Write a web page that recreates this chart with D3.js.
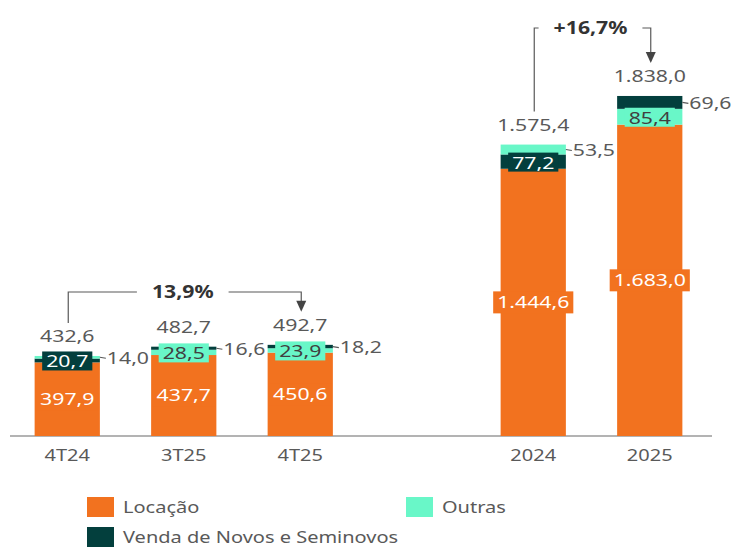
<!DOCTYPE html>
<html>
<head>
<meta charset="utf-8">
<script src="https://cdn.jsdelivr.net/npm/d3@7"></script>
<style>
  body { margin: 0; background: #fff; }
  svg { display: block; font-family: "Noto Sans", sans-serif; }
</style>
</head>
<body>
<svg id="chart" width="732" height="547"></svg>
<script>
// dados
const categories = ["4T24", "3T25", "4T25", "2024", "2025"];
const slots = ["4T24", "3T25", "4T25", "gap", "2024", "2025"];
const locacao = [397.9, 437.7, 450.6, 1444.6, 1683.0];
const venda = [20.7, 16.6, 18.2, 77.2, 69.6];
const outras = [14.0, 28.5, 23.9, 53.5, 85.4];
const totals = [432.6, 482.7, 492.7, 1575.4, 1838.0];
const seriesNames = ["Locação", "Venda de Novos e Seminovos", "Outras"];
const legendOrder = ["Locação", "Outras", "Venda de Novos e Seminovos"];
const growthFrom = ["4T24", "2024"];
const growthTo = ["4T25", "2025"];
const growthLabels = ["13,9%", "+16,7%"];

const colors = {
    "Locação": "#F2721F",
    "Venda de Novos e Seminovos": "#033F3D",
    "Outras": "#69F7C8"
};
const SX = 1.25; // texto do original é mais largo
const gray = "#595959";

const br = d3.formatLocale({ decimal: ",", thousands: ".", grouping: [3], currency: ["R$", ""] });
const fmt = br.format(",.1f");

const svg = d3.select("#chart");

const x = d3.scaleBand().domain(slots).range([9, 708]).paddingInner(0.44).paddingOuter(0.22);
const y = d3.scaleLinear().domain([0, 2000]).range([436, 66]);

function addText(g, px, py, str, o) {
    o = o || {};
    const t = g.append("text")
        .attr("transform", `translate(${px},${py}) scale(${SX},1)`)
        .attr("text-anchor", o.anchor || "middle")
        .attr("dy", "0.35em")
        .attr("font-size", (o.size || 17) + "px")
        .attr("font-weight", o.weight || "normal")
        .attr("fill", o.fill || gray)
        .text(str);
    return t;
}

// eixo
svg.append("line")
    .attr("x1", 10).attr("x2", 712)
    .attr("y1", y(0)).attr("y2", y(0))
    .attr("stroke", "#9a9a9a").attr("stroke-width", 1.5);

const axisG = svg.append("g");
categories.forEach(c => {
    addText(axisG, x(c) + x.bandwidth() / 2, 455, c, { size: 16 });
});

// barras empilhadas: locação na base, demais em ordem decrescente
const barsG = svg.append("g");
const labelsG = svg.append("g");

categories.forEach((c, i) => {
    const x0 = x(c), bw = x.bandwidth(), cx = x0 + bw / 2;
    const others = [
        { name: "Venda de Novos e Seminovos", v: venda[i] },
        { name: "Outras", v: outras[i] }
    ].sort((a, b) => b.v - a.v);
    const segs = [{ name: "Locação", v: locacao[i] }].concat(others);
    let acc = 0;
    segs.forEach(s => { s.y0 = acc; acc += s.v; s.y1 = acc; });

    barsG.selectAll(null)
        .data(segs)
        .enter()
        .append("rect")
        .attr("x", x0)
        .attr("width", bw)
        .attr("y", d => y(d.y1))
        .attr("height", d => y(d.y0) - y(d.y1))
        .attr("fill", d => colors[d.name]);

    // rótulo locação
    const loc = segs[0];
    const ly = (y(loc.y0) + y(loc.y1)) / 2;
    const lb = labelsG.append("g");
    const lt = addText(lb, cx, ly, fmt(loc.v), { fill: "#fff" });
    const lw = lt.node().getComputedTextLength() * SX + 8;
    lb.insert("rect", "text")
        .attr("x", cx - lw / 2).attr("y", ly - 11)
        .attr("width", lw).attr("height", 22)
        .attr("fill", colors["Locação"]);

    // rótulo do segmento do meio (caixa)
    const mid = segs[1];
    const my = (y(mid.y0) + y(mid.y1)) / 2 + 1;
    const mb = labelsG.append("g");
    const dark = mid.name === "Venda de Novos e Seminovos";
    const mt = addText(mb, cx, my, fmt(mid.v), { fill: dark ? "#fff" : "#404040" });
    const mw = mt.node().getComputedTextLength() * SX + 8;
    mb.insert("rect", "text")
        .attr("x", cx - mw / 2).attr("y", my - 10)
        .attr("width", mw).attr("height", 19)
        .attr("fill", colors[mid.name]);

    // rótulo do segmento do topo (fora, com linha guia)
    const top = segs[2];
    const ty = (y(top.y0) + y(top.y1)) / 2;
    labelsG.append("line")
        .attr("x1", x0 + bw).attr("x2", x0 + bw + 6)
        .attr("y1", ty).attr("y2", ty + 1)
        .attr("stroke", gray).attr("stroke-width", 1.2);
    addText(labelsG, x0 + bw + 7, ty + 1, fmt(top.v), { anchor: "start" });

    // total
    addText(labelsG, cx, y(totals[i]) - 20, fmt(totals[i]));
});

// anotações de crescimento
const bracketTop = [292, 28];
const annG = svg.append("g");
growthLabels.forEach((lab, k) => {
    const i0 = categories.indexOf(growthFrom[k]);
    const i1 = categories.indexOf(growthTo[k]);
    const xa = x(growthFrom[k]) + x.bandwidth() / 2 + 1;
    const xb = x(growthTo[k]) + x.bandwidth() / 2 + 1;
    const ya = y(totals[i0]) - 33;
    const yb = y(totals[i1]) - 33;
    const ly = bracketTop[k];
    const xm = (xa + xb) / 2 - 2;
    const t = addText(annG, xm, ly, lab, { weight: "bold", fill: "#333", size: 17 });
    const hw = t.node().getComputedTextLength() * SX / 2 + 15;
    annG.append("path")
        .attr("d", `M${xa},${ya} V${ly} H${xm - hw}`)
        .attr("fill", "none").attr("stroke", gray).attr("stroke-width", 1.2);
    annG.append("path")
        .attr("d", `M${xm + hw},${ly} H${xb} V${yb - 10}`)
        .attr("fill", "none").attr("stroke", gray).attr("stroke-width", 1.2);
    annG.append("path")
        .attr("d", `M${xb - 5},${yb - 11} L${xb + 5},${yb - 11} L${xb},${yb} Z`)
        .attr("fill", "#444");
});

// legenda
const legG = svg.append("g");
legendOrder.forEach((name, k) => {
    const lx = k === 1 ? 406 : 87;
    const ly = k === 2 ? 527 : 497;
    legG.append("rect")
        .attr("x", lx).attr("y", ly)
        .attr("width", 27).attr("height", 20)
        .attr("fill", colors[name]);
    addText(legG, lx + 36, ly + 10, name, { anchor: "start", size: 16 });
});
</script>
</body>
</html>
